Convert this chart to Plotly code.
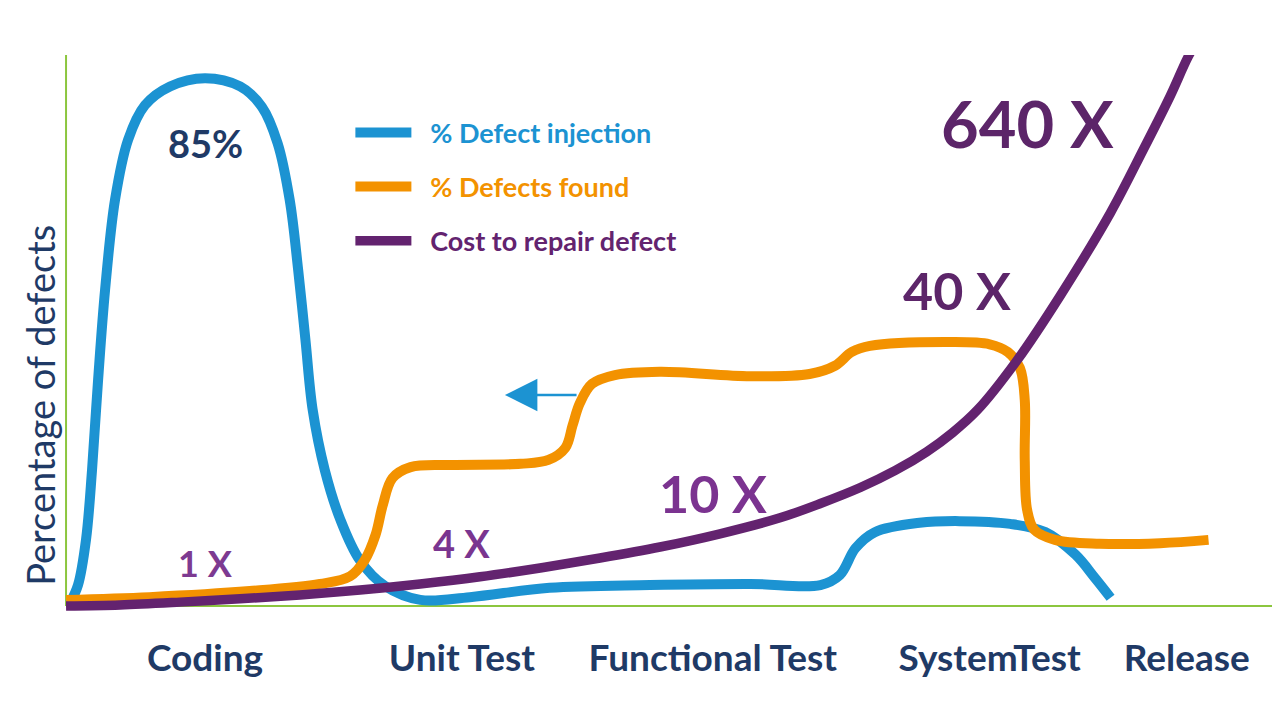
import plotly.graph_objects as go

# ---------------- data (x: progress along the lifecycle 0-100, y: % of axis height 0-100) ----------------
stages = ["Coding", "Unit Test", "Functional Test", "SystemTest", "Release"]
stage_pos = [11.5, 32.75, 53.5, 76.4, 92.7]

inj_x = [0.33, 0.99, 1.65, 2.15, 2.65, 3.23, 4.05, 5.13, 6.53, 8.6, 11.5, 14.4, 16.2, 17.5, 18.5,
         19.2, 19.8, 20.4, 21.4, 22.7, 24.3, 26.4, 29.3, 33.4, 40.0, 48.3, 56.6, 62.4, 64.0, 65.3,
         66.9, 70.6, 73.9, 78.1, 81.0, 83.5, 85.1, 86.4]
inj_y = [0.5, 3.8, 12.0, 24.7, 41.0, 57.4, 73.7, 84.6, 90.9, 94.3, 95.8, 94.3, 90.6, 84.0, 73.7,
         61.0, 48.3, 35.6, 24.7, 15.6, 8.3, 3.6, 1.1, 1.6, 3.3, 3.8, 4.0, 3.8, 5.6, 10.5,
         13.4, 15.1, 15.4, 14.9, 13.4, 9.3, 5.1, 1.5]

found_x = [0.0, 6.9, 15.2, 21.0, 23.5, 24.7, 25.6, 26.2, 27.0, 28.5, 31.8, 37.6, 39.9, 41.3, 41.9,
           42.5, 43.5, 45.4, 49.1, 56.6, 61.5, 63.6, 65.0, 66.5, 73.1, 76.4, 77.9, 78.9, 79.3,
           79.3, 79.5, 80.1, 81.8, 85.5, 90.5, 94.5]
found_y = [1.1, 1.6, 2.7, 4.0, 5.4, 8.3, 12.9, 18.3, 23.2, 25.2, 25.6, 25.8, 26.5, 28.7, 32.8,
           36.8, 40.3, 41.9, 42.5, 41.7, 42.1, 43.6, 46.1, 47.2, 47.9, 47.5, 46.1, 43.2, 37.4,
           26.5, 17.4, 13.8, 12.0, 11.3, 11.4, 12.0]

cost_x = [0.0, 4.47, 9.43, 14.39, 19.35, 24.32, 29.28, 34.24, 39.21, 44.17, 49.13, 54.09, 59.06,
          62.4, 65.7, 68.6, 71.2, 73.3, 75.4, 78.7, 82.2, 86.4, 89.1, 91.3, 92.8, 93.8]
cost_y = [0.0, 0.2, 0.7, 1.3, 2.0, 2.9, 4.0, 5.3, 6.9, 8.7, 10.7, 13.1, 16.0,
          18.6, 21.5, 24.6, 28.0, 31.4, 35.6, 44.7, 56.2, 71.4, 82.8, 92.4, 99.6, 103.5]

series_names = ["% Defect injection", "% Defects found", "Cost to repair defect"]
cost_labels = ["1 X", "4 X", "10 X", "40 X", "640 X"]
cost_label_x = [11.5, 32.75, 53.5, 73.7, 79.5]
cost_label_y = [7.8, 11.4, 20.5, 57.4, 87.7]
peak_label = "85%"

# ---------------- styling ----------------
BLUE = "#1c93d2"
ORANGE = "#f39200"
PURPLE = "#63236f"
NAVY = "#1f3a66"
GREEN = "#8cc63f"
FONT = "Lato"

fig = go.Figure()
colors = [BLUE, ORANGE, PURPLE]
widths = [10, 10, 9.5]
for i, (xs, ys) in enumerate([(inj_x, inj_y), (found_x, found_y), (cost_x, cost_y)]):
    fig.add_trace(go.Scatter(
        x=xs, y=ys, mode="lines",
        line=dict(color=colors[i], width=widths[i], shape="spline", smoothing=1.0),
        name=f"&nbsp;&nbsp;<b><span style='color:{colors[i]}'>{series_names[i]}</span></b>",
        legendgroup=f"g{i}", hoverinfo="skip",
    ))

# axis lines
fig.add_shape(type="line", x0=0, x1=0, y0=0, y1=100, xref="x", yref="y",
              line=dict(color=GREEN, width=2), layer="below")
fig.add_shape(type="line", x0=0, x1=100, y0=0, y1=0, xref="x", yref="y",
              line=dict(color=GREEN, width=2), layer="below")

label_colors = ["#7d3a91", "#7a3590", "#7b3390", "#5c2569", "#5c2569"]
label_sizes = [36, 38, 52, 52, 65]
for t, lx, ly, c, s in zip(cost_labels, cost_label_x, cost_label_y, label_colors, label_sizes):
    fig.add_annotation(x=lx, y=ly, text=f"<b>{t}</b>", showarrow=False,
                       font=dict(family=FONT, size=s, color=c), xanchor="center", yanchor="middle")

fig.add_annotation(x=11.5, y=84.0, text=f"<b>{peak_label}</b>", showarrow=False,
                   font=dict(family=FONT, size=38, color=NAVY), xanchor="center", yanchor="middle")

fig.add_annotation(x=-0.0165, y=36.5, xref="paper", yref="y", text="Percentage of defects",
                   textangle=-90, showarrow=False,
                   font=dict(family=FONT, size=38, color=NAVY), xanchor="center", yanchor="middle")

# arrow
fig.add_annotation(x=36.3, y=38.3, ax=42.35, ay=38.3, xref="x", yref="y", axref="x", ayref="y",
                   text="", showarrow=True, arrowhead=2, arrowsize=2.6, arrowwidth=2.5,
                   arrowcolor=BLUE)

fig.update_layout(
    width=1272, height=718,
    margin=dict(l=52, r=5, t=47, b=109),
    paper_bgcolor="white", plot_bgcolor="white",
    showlegend=True,
    legend=dict(x=0.239, y=0.905, xanchor="left", yanchor="top",
                font=dict(family=FONT, size=27), itemwidth=56,
                tracegroupgap=16, bgcolor="rgba(0,0,0,0)"),
    xaxis=dict(range=[-0.5, 100], showgrid=False, zeroline=False, showline=False,
               tickvals=stage_pos, ticktext=[f"<b>{s}</b>" for s in stages],
               tickfont=dict(family=FONT, size=37, color=NAVY), ticks="",
               ticklabelstandoff=16, fixedrange=True),
    yaxis=dict(range=[-2, 100], showgrid=False, zeroline=False, showline=False,
               showticklabels=False, ticks="", fixedrange=True),
    hovermode=False,
)

fig.write_html("out.html")
